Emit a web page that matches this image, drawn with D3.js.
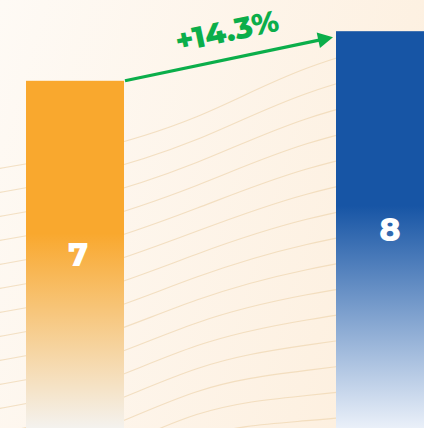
<!DOCTYPE html>
<html><head><meta charset="utf-8">
<script src="https://cdn.jsdelivr.net/npm/d3@7"></script>
<style>html,body{margin:0;padding:0;overflow:hidden;background:#FDF5EA}svg{display:block}</style>
</head><body><div id="chart"></div>
<script>
const categories = ["Before", "After"];
const values = [7, 8];
const changeLabel = "+14.3%";
const barColors = ["#F9A82E", "#1755A5"];
const barEndColors = ["#F4F2EE", "#EAF0F9"];

const W = 424, H = 428;
const svg = d3.select("#chart").append("svg").attr("width", W).attr("height", H);
const defs = svg.append("defs");

// background
const bg = defs.append("linearGradient").attr("id","bg").attr("x1",0).attr("y1",0).attr("x2",1).attr("y2",0.3);
bg.append("stop").attr("offset",0).attr("stop-color","#FEFAF5");
bg.append("stop").attr("offset",1).attr("stop-color","#FDF0E0");
svg.append("rect").attr("width",W).attr("height",H).attr("fill","url(#bg)");

// decorative contour lines
const wave = d3.line().curve(d3.curveBasis);
const waves = svg.append("g").attr("fill","none").attr("stroke","#EFD6B0").attr("stroke-width",1.1).attr("opacity",0.7);
for (let i = 0; i < 16; i++) {
  const y0 = 160 + i * 24;
  const pts = [[-10, y0 + 10], [80, y0 - 5], [200, y0 - 40 - i*2], [300, y0 - 95 + i*1.5], [440, y0 - 130 + i*3]];
  waves.append("path").attr("d", wave(pts));
}

const x = d3.scaleBand().domain(categories).range([26, 434]).paddingInner(212/310).paddingOuter(0);
const y = d3.scaleLinear().domain([0, 428/49.6]).range([H, 0]);

categories.forEach((c,i)=>{
  const g = defs.append("linearGradient").attr("id","g"+i).attr("x1",0).attr("y1",0).attr("x2",0).attr("y2",1);
  g.append("stop").attr("offset",0).attr("stop-color",barColors[i]);
  g.append("stop").attr("offset",0.44).attr("stop-color",barColors[i]);
  g.append("stop").attr("offset",1).attr("stop-color",barEndColors[i]);
});

svg.selectAll("rect.bar").data(values).join("rect").attr("class","bar")
  .attr("x",(d,i)=>x(categories[i])).attr("width",x.bandwidth())
  .attr("y",d=>y(d)).attr("height",d=>H-y(d))
  .attr("fill",(d,i)=>`url(#g${i})`);

svg.selectAll("text.val").data(values).join("text").attr("class","val")
  .attr("x",(d,i)=>x(categories[i])+x.bandwidth()/2 + (i===1?5:3))
  .attr("y",d=>(y(d)+H)/2)
  .attr("dy","0.36em")
  .attr("text-anchor","middle")
  .attr("font-family","Montserrat, 'Open Sans', sans-serif").attr("font-weight",800)
  .attr("font-size",32).attr("fill","#fff").text(d=>d);

// arrow
const green = "#0BAE4A";
const x1 = x(categories[0]) + x.bandwidth() + 1, y1 = y(values[0]);
const x2 = x(categories[1]) - 3, y2 = y(values[1]) + 6;
const ang = Math.atan2(y2-y1, x2-x1);
const headL = 15, headW = 8;
const bx = x2 - headL*Math.cos(ang), by = y2 - headL*Math.sin(ang);
svg.append("line").attr("x1",x1).attr("y1",y1).attr("x2",bx+2*Math.cos(ang)).attr("y2",by+2*Math.sin(ang))
  .attr("stroke",green).attr("stroke-width",3.2);
const px = -Math.sin(ang), py = Math.cos(ang);
svg.append("path").attr("d",`M${x2},${y2}L${bx+px*headW},${by+py*headW}L${bx-px*headW},${by-py*headW}Z`).attr("fill",green);

const mx = (x1+x2)/2 - 2, my = (y1+y2)/2 - 28;
svg.append("text").attr("transform",`translate(${mx},${my}) rotate(${ang*180/Math.PI})`)
  .attr("text-anchor","middle").attr("dy","0.35em")
  .attr("font-family","Montserrat, 'Open Sans', sans-serif").attr("font-weight",800)
  .attr("font-size",30).attr("fill",green).text(changeLabel);
</script></body></html>
